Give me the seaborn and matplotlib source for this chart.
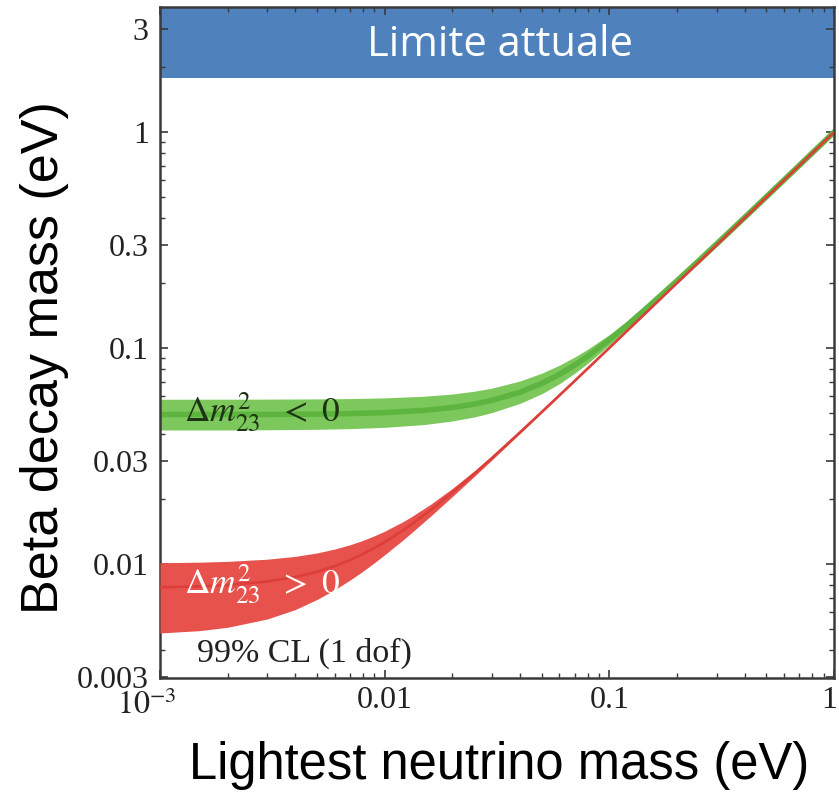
import matplotlib
matplotlib.use("Agg")
import matplotlib.pyplot as plt
import matplotlib.ticker as mticker
from matplotlib.transforms import ScaledTranslation
import numpy as np
import pandas as pd
import seaborn as sns

# ---------------- data ----------------
# Inverted hierarchy (Delta m^2_23 < 0), green band
lightest_ih = [0.001, 0.002, 0.003, 0.005, 0.007, 0.01, 0.015, 0.02, 0.025, 0.03,
               0.04, 0.05, 0.06, 0.07, 0.08, 0.1, 0.12, 0.15, 0.2, 0.25, 0.3,
               0.4, 0.5, 0.7, 1.0]
ih_upper = [0.05801, 0.05803, 0.05808, 0.05822, 0.05842, 0.05886, 0.05991, 0.06135,
            0.06316, 0.06530, 0.07046, 0.07658, 0.08345, 0.09091, 0.09881, 0.11560,
            0.13328, 0.16082, 0.20824, 0.25664, 0.30556, 0.40418, 0.50335, 0.70240,
            1.00168]
ih_lower = [0.0418, 0.0418, 0.0419, 0.0421, 0.0424, 0.0430, 0.0443, 0.0460, 0.0480,
            0.0503, 0.0555, 0.0615, 0.0685, 0.0765, 0.0850, 0.1035, 0.1225, 0.1525,
            0.2020, 0.2515, 0.3015, 0.4010, 0.5010, 0.7005, 1.0005]
ih_center = [0.0493, 0.0493, 0.04933, 0.04951, 0.04977, 0.05031, 0.05152, 0.05312,
             0.05506, 0.05731, 0.06253, 0.06863, 0.07561, 0.08339, 0.09165, 0.10938,
             0.12778, 0.15660, 0.20510, 0.25406, 0.30353, 0.4026, 0.5022, 0.7014,
             1.0011]

# Normal hierarchy (Delta m^2_23 > 0), red band
lightest_nh = [0.001, 0.0015, 0.002, 0.003, 0.004, 0.005, 0.006, 0.007, 0.008, 0.009,
               0.01, 0.012, 0.013, 0.016, 0.02, 0.025, 0.03, 0.04, 0.05, 0.07, 0.1,
               0.15, 0.2, 0.3, 0.5, 0.7, 1.0]
nh_upper = [0.01015, 0.01021, 0.01030, 0.01054, 0.01086, 0.01127, 0.01175, 0.01229,
            0.01288, 0.01353, 0.01421, 0.01568, 0.01646, 0.01892, 0.02241, 0.02696,
            0.03165, 0.04126, 0.05101, 0.07073, 0.10051, 0.15034, 0.20025, 0.30017,
            0.50010, 0.70007, 1.00005]
nh_lower = [0.00480, 0.00492, 0.00510, 0.00557, 0.00616, 0.00686, 0.00762, 0.00843,
            0.00927, 0.01015, 0.01105, 0.01288, 0.01382, 0.01667, 0.02054, 0.02544,
            0.03036, 0.04027, 0.05022, 0.07016, 0.10011, 0.15007, 0.20005, 0.30004,
            0.50002, 0.70002, 1.00001]
nh_center = [0.00781, 0.00789, 0.00800, 0.00831, 0.00872, 0.00922, 0.00980, 0.01044,
             0.01114, 0.01187, 0.01265, 0.01428, 0.01513, 0.01778, 0.02145, 0.02617,
             0.03098, 0.04074, 0.05060, 0.07043, 0.10030, 0.15020, 0.20015, 0.30010,
             0.50006, 0.70004, 1.00003]

# current experimental limit band (shaded area at top)
limit_band = [1.78, 3.8]

x_ticks = [0.001, 0.01, 0.1, 1]
x_tick_labels = [r"$10^{-3}$", "0.01", "0.1", "1"]
y_ticks = [0.003, 0.01, 0.03, 0.1, 0.3, 1, 3]
y_tick_labels = ["0.003", "0.01", "0.03", "0.1", "0.3", "1", "3"]

# ---------------- style ----------------
sns.set_theme(style="ticks")
plt.rcParams["font.family"] = ["Liberation Serif", "DejaVu Serif"]
plt.rcParams["mathtext.fontset"] = "stix"

GREEN = "#7cc85c"
GREEN_DARK = "#5db53f"
RED = "#e8524d"
RED_DARK = "#dc3e39"
BLUE = "#4f81bd"
FRAME = "#3a3a3a"

fig = plt.figure(figsize=(8.39, 8.0), dpi=100)
ax = fig.add_axes([160 / 839, 1 - 678 / 800, 674 / 839, 671 / 800])
ax.set_xscale("log")
ax.set_yscale("log")

df_ih = pd.DataFrame({"m": lightest_ih, "lo": ih_lower, "hi": ih_upper, "c": ih_center})
df_nh = pd.DataFrame({"m": lightest_nh, "lo": nh_lower, "hi": nh_upper, "c": nh_center})

ax.axhspan(limit_band[0], limit_band[1], color=BLUE, lw=0, zorder=0.5)

ax.fill_between(df_ih["m"], df_ih["lo"], df_ih["hi"], color=GREEN, lw=0, zorder=1)
sns.lineplot(data=df_ih, x="m", y="c", ax=ax, color=GREEN_DARK, lw=4.0,
             estimator=None, sort=False, zorder=2)
ax.fill_between(df_nh["m"], df_nh["lo"], df_nh["hi"], color=RED, lw=0, zorder=3)
sns.lineplot(data=df_nh, x="m", y="c", ax=ax, color=RED_DARK, lw=1.9,
             estimator=None, sort=False, zorder=4)

ax.set_xlim(x_ticks[0], x_ticks[-1])
ax.set_ylim(0.00297, limit_band[1])

ax.set_xticks(x_ticks)
ax.set_xticklabels(x_tick_labels)
ax.set_yticks(y_ticks)
ax.set_yticklabels(y_tick_labels)
ax.xaxis.set_minor_formatter(mticker.NullFormatter())
ax.yaxis.set_minor_formatter(mticker.NullFormatter())
ax.xaxis.set_minor_locator(mticker.LogLocator(base=10, subs=np.arange(2, 10)))
ax.yaxis.set_minor_locator(mticker.LogLocator(base=10, subs=np.arange(2, 10)))

ax.tick_params(which="both", direction="in", top=True, right=True, color=FRAME)
ax.tick_params(which="major", length=6, width=1.2, labelsize=23, labelcolor="#222222")
ax.tick_params(which="minor", length=3.5, width=1.0)
ax.tick_params(axis="y", pad=8)
ax.tick_params(axis="x", pad=6)
for sp in ax.spines.values():
    sp.set_color(FRAME)
    sp.set_linewidth(1.8)

# nudge the first and last x tick labels as in the reference
xlabs = ax.get_xticklabels()
xlabs[0].set_transform(xlabs[0].get_transform() +
                       ScaledTranslation(-0.13, -0.04, fig.dpi_scale_trans))
xlabs[-1].set_transform(xlabs[-1].get_transform() +
                        ScaledTranslation(-0.05, 0, fig.dpi_scale_trans))

ax.set_xlabel("Lightest neutrino mass (eV)", family="Liberation Sans", fontsize=36.5,
              color="black", va="center", ha="center")
ax.xaxis.set_label_coords(0.503, -0.130)
ax.set_ylabel("Beta decay mass (eV)", family="Liberation Sans", fontsize=37.5,
              color="black", va="center", ha="center")
ax.yaxis.set_label_coords(-0.171, 0.477)

ax.text(0.504, 0.943, "Limite attuale", transform=ax.transAxes, ha="center",
        va="center", fontsize=30, color="white", family="Open Sans", zorder=6)
ax.text(0.036, 0.395, r"$\Delta m^2_{23}\ \ <\ 0$", transform=ax.transAxes,
        ha="left", va="center", fontsize=25.5, color="#1e3314", zorder=6)
ax.text(0.036, 0.139, r"$\Delta m^2_{23}\ \ >\ 0$", transform=ax.transAxes,
        ha="left", va="center", fontsize=25.5, color="white", zorder=6)
ax.text(0.055, 0.037, "99% CL (1 dof)", transform=ax.transAxes, ha="left",
        va="center", fontsize=24.5, color="#222222", zorder=6)

fig.savefig("out.png", dpi=100)
